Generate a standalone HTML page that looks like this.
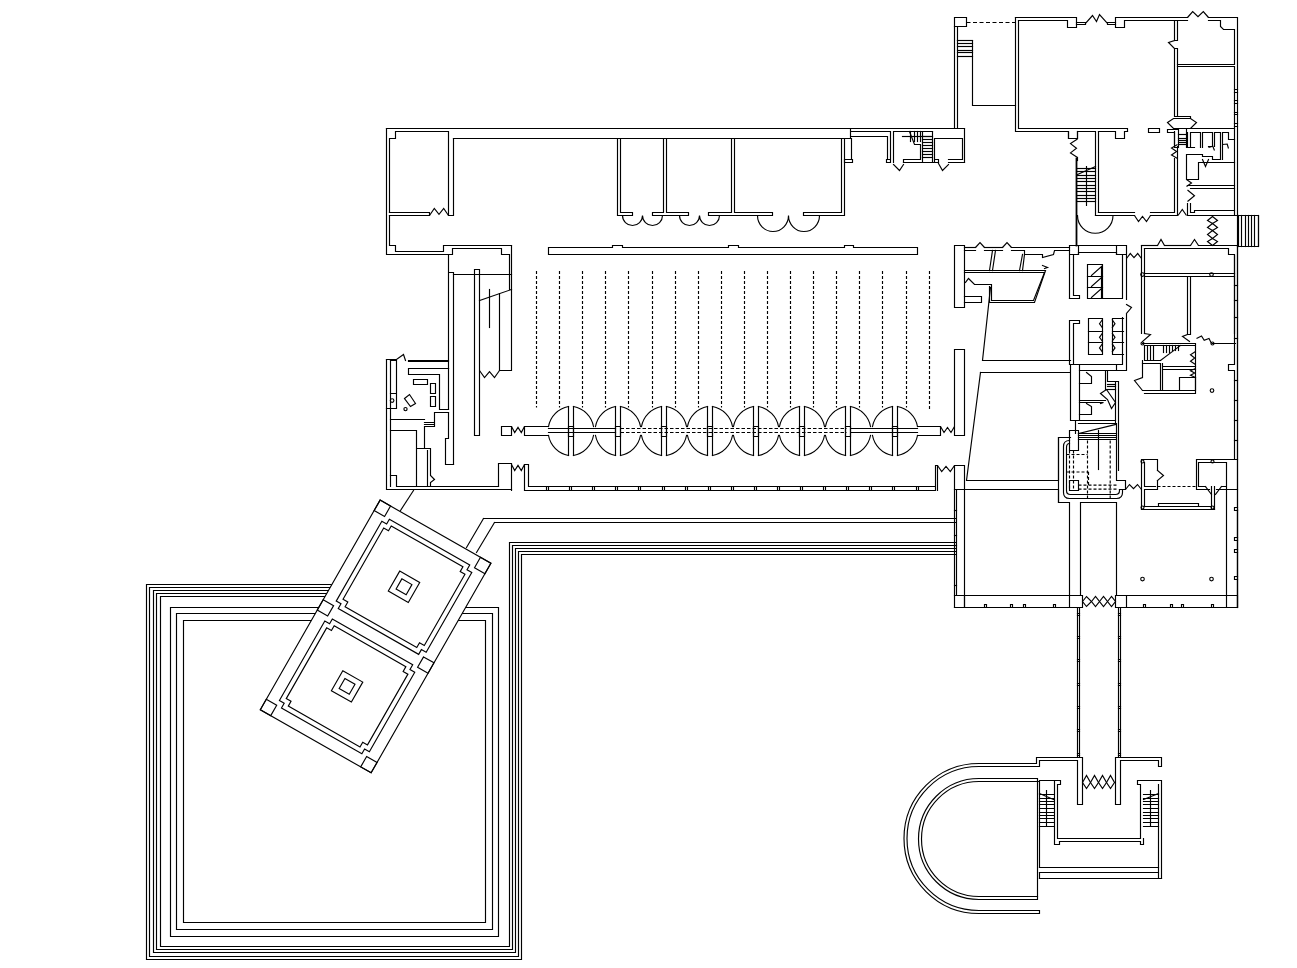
<!DOCTYPE html>
<html><head><meta charset="utf-8"><style>
html,body{margin:0;padding:0;background:#fff;width:1297px;height:968px;overflow:hidden}
svg{display:block}
</style></head><body>
<svg width="1297" height="968" viewBox="0 0 1297 968">
<g transform="translate(0.5,0.5)" fill="none" stroke="#000" stroke-width="1.15" stroke-linejoin="miter" stroke-linecap="square">
<path d="M386,128 H964 V162" />
<path d="M453,138 H850 V128" />
<path d="M386,128 V254 H452 V248 H501 V254 H509 V289" />
<path d="M511,245 V370 H499 V293" />
<path d="M389,212 V138 H395 V131 H448 V215 H453 V138" />
<path d="M389,212 H429 V215 H389" />
<path d="M429.0,215.0 L433.8,208.0 L438.5,213.9 L443.2,208.0 L448.0,215.0" stroke-linecap="butt"/>
<path d="M389,215 V245 H395 V251 H443 V245 H511" />
<path d="M448,254 V368 M453,464 V272 H448" />
<path d="M453,274 H511" />
<path d="M474,269 V435 H479 V269 Z" />
<path d="M479,300 L511,289" />
<path d="M489,289 V327" />
<path d="M479.0,370.0 L484.0,377.0 L489.0,371.1 L494.0,377.0 L499.0,370.0" stroke-linecap="butt"/>
<path d="M617,138 V215 H632 V212 H620 V138" />
<path d="M622,215 A10,10 0 0 0 642,215 A10,10 0 0 0 662,215" />
<path d="M666,138 V212 H688 V215 H652 V212 H663 V138" />
<path d="M679,215 A10,10 0 0 0 699,215 A10,10 0 0 0 719,215" />
<path d="M734,138 V212 H772 V215 H708 V212 H731 V138" />
<path d="M757,215 A15.5,16 0 0 0 788,215 A15.5,16 0 0 0 819,215" />
<path d="M844,138 V215 H803 V212 H841 V138" />
<path d="M851,138 V159 M844,159 H852 V162 H844 Z" />
<path d="M851,131 H890 V162 M851,136 H887 V159 M886,159 H890 V162 H886 Z" />
<path d="M893,131 H932 M893,131 V162" />
<path d="M893,164 L899,170 L903,164" />
<path d="M903,162 V159 H920 V144 H914 L909,131" />
<path d="M903,162 H938" />
<path d="M922,131 V162 M932,131 V162" />
<path d="M922,136 H932" />
<path d="M922,139 H932" />
<path d="M922,142 H932" />
<path d="M922,145 H932" />
<path d="M922,148 H932" />
<path d="M922,151 H932" />
<path d="M922,154 H932" />
<path d="M922,157 H932" />
<path d="M910,131 V141" />
<path d="M914,131 V141" />
<path d="M917,131 V141" />
<path d="M920,131 V141" />
<path d="M902,136 H930" />
<path d="M934,162 V138 H962 V159 H948 M948,162 H964 M934,159 H938 V162" />
<path d="M938,163 L942,170 L948,164" />
<path d="M548,247 H612 V245 H622 V247 H728 V245 H738 V247 H844 V245 H853 V247 H917 V254 H548 Z" />
<path d="M536,270.5V407" stroke-dasharray="3,2" stroke-linecap="butt"/>
<path d="M559,270.5V407" stroke-dasharray="3,2" stroke-linecap="butt"/>
<path d="M582,270.5V407" stroke-dasharray="3,2" stroke-linecap="butt"/>
<path d="M605,270.5V407" stroke-dasharray="3,2" stroke-linecap="butt"/>
<path d="M628,270.5V407" stroke-dasharray="3,2" stroke-linecap="butt"/>
<path d="M652,270.5V407" stroke-dasharray="3,2" stroke-linecap="butt"/>
<path d="M675,270.5V407" stroke-dasharray="3,2" stroke-linecap="butt"/>
<path d="M698,270.5V407" stroke-dasharray="3,2" stroke-linecap="butt"/>
<path d="M721,270.5V407" stroke-dasharray="3,2" stroke-linecap="butt"/>
<path d="M744,270.5V407" stroke-dasharray="3,2" stroke-linecap="butt"/>
<path d="M767,270.5V407" stroke-dasharray="3,2" stroke-linecap="butt"/>
<path d="M790,270.5V407" stroke-dasharray="3,2" stroke-linecap="butt"/>
<path d="M813,270.5V407" stroke-dasharray="3,2" stroke-linecap="butt"/>
<path d="M836,270.5V407" stroke-dasharray="3,2" stroke-linecap="butt"/>
<path d="M859,270.5V407" stroke-dasharray="3,2" stroke-linecap="butt"/>
<path d="M882,270.5V407" stroke-dasharray="3,2" stroke-linecap="butt"/>
<path d="M906,270.5V407" stroke-dasharray="3,2" stroke-linecap="butt"/>
<path d="M929,270.5V410" stroke-dasharray="3,2" stroke-linecap="butt"/>
<path d="M568,406 V455 M573,406 V455" />
<path d="M568,426 H573 V436 H568 Z" />
<path d="M568,406 A25,25 0 0 0 548,426 M548,435 A25,25 0 0 0 568,455" />
<path d="M573,406 A25,25 0 0 1 593,426 M593,435 A25,25 0 0 1 573,455" />
<path d="M615,406 V455 M620,406 V455" />
<path d="M615,426 H620 V436 H615 Z" />
<path d="M615,406 A25,25 0 0 0 595,426 M595,435 A25,25 0 0 0 615,455" />
<path d="M620,406 A25,25 0 0 1 640,426 M640,435 A25,25 0 0 1 620,455" />
<path d="M661,406 V455 M666,406 V455" />
<path d="M661,426 H666 V436 H661 Z" />
<path d="M661,406 A25,25 0 0 0 641,426 M641,435 A25,25 0 0 0 661,455" />
<path d="M666,406 A25,25 0 0 1 686,426 M686,435 A25,25 0 0 1 666,455" />
<path d="M707,406 V455 M712,406 V455" />
<path d="M707,426 H712 V436 H707 Z" />
<path d="M707,406 A25,25 0 0 0 687,426 M687,435 A25,25 0 0 0 707,455" />
<path d="M712,406 A25,25 0 0 1 732,426 M732,435 A25,25 0 0 1 712,455" />
<path d="M753,406 V455 M758,406 V455" />
<path d="M753,426 H758 V436 H753 Z" />
<path d="M753,406 A25,25 0 0 0 733,426 M733,435 A25,25 0 0 0 753,455" />
<path d="M758,406 A25,25 0 0 1 778,426 M778,435 A25,25 0 0 1 758,455" />
<path d="M799,406 V455 M804,406 V455" />
<path d="M799,426 H804 V436 H799 Z" />
<path d="M799,406 A25,25 0 0 0 779,426 M779,435 A25,25 0 0 0 799,455" />
<path d="M804,406 A25,25 0 0 1 824,426 M824,435 A25,25 0 0 1 804,455" />
<path d="M845,406 V455 M850,406 V455" />
<path d="M845,426 H850 V436 H845 Z" />
<path d="M845,406 A25,25 0 0 0 825,426 M825,435 A25,25 0 0 0 845,455" />
<path d="M850,406 A25,25 0 0 1 870,426 M870,435 A25,25 0 0 1 850,455" />
<path d="M892,406 V455 M897,406 V455" />
<path d="M892,426 H897 V436 H892 Z" />
<path d="M892,406 A25,25 0 0 0 872,426 M872,435 A25,25 0 0 0 892,455" />
<path d="M897,406 A25,25 0 0 1 917,426 M917,435 A25,25 0 0 1 897,455" />
<path d="M548,428 H615 M548,432 H615 M851,428 H917 M851,432 H917" />
<path d="M620,428H846" stroke-dasharray="3.5,2" stroke-linecap="butt"/>
<path d="M620,432H846" stroke-dasharray="3.5,2" stroke-linecap="butt"/>
<path d="M917,426 H940 V435 H917" />
<path d="M940.0,426.0 L943.5,432.0 L947.0,426.9 L950.5,432.0 L954.0,426.0" stroke-linecap="butt"/>
<path d="M501,426 H511 V435 H501 Z" />
<path d="M511.0,426.0 L514.2,432.0 L517.5,426.9 L520.8,432.0 L524.0,426.0" stroke-linecap="butt"/>
<path d="M548,426 H524 V435 H548" />
<path d="M524,464 V490 H935 V465 H937 V490 M528,464 V486 H935 M524,464 H528" />
<path d="M546,486 V490 M548,486 V490" />
<path d="M569,486 V490 M571,486 V490" />
<path d="M592,486 V490 M594,486 V490" />
<path d="M615,486 V490 M617,486 V490" />
<path d="M638,486 V490 M640,486 V490" />
<path d="M662,486 V490 M664,486 V490" />
<path d="M685,486 V490 M687,486 V490" />
<path d="M708,486 V490 M710,486 V490" />
<path d="M731,486 V490 M733,486 V490" />
<path d="M754,486 V490 M756,486 V490" />
<path d="M777,486 V490 M779,486 V490" />
<path d="M800,486 V490 M802,486 V490" />
<path d="M823,486 V490 M825,486 V490" />
<path d="M846,486 V490 M848,486 V490" />
<path d="M869,486 V490 M871,486 V490" />
<path d="M892,486 V490 M894,486 V490" />
<path d="M916,486 V490 M918,486 V490" />
<path d="M498,486 V463 H511 V490" />
<path d="M511.0,464.0 L514.2,470.0 L517.5,464.9 L520.8,470.0 L524.0,464.0" stroke-linecap="butt"/>
<path d="M937.0,465.0 L941.2,471.0 L945.5,465.9 L949.8,471.0 L954.0,465.0" stroke-linecap="butt"/>
<path d="M954,245 H964 V307 H954 Z" />
<path d="M954,349 H964 V435 H954 Z" />
<path d="M954,465 H964 V607 M954,465 V607" />
<path d="M386,359 V489 H511 M390,360 V486" />
<path d="M386,359 H396 L403,354 L405,360" />
<path d="M390,360 H396 V408 H386 M390,393 H396" />
<circle cx="391.6" cy="400" r="1.8"/>
<path d="M408,360 H448 M408,361 H448" />
<path d="M448,368 H408 V374 H439 V409 H448 M434,412 H448 M434,412 V426 H424 V448 M424,419 H390 M424,422 H434 M424,424 H434" />
<path d="M413,379 H427 V384 H413 Z M430,383 H435 V393 H430 Z M430,396 H435 V406 H430 Z" />
<path d="M404,398 L409,394 L415,403 L410,406 Z" />
<circle cx="405" cy="408.6" r="1.6"/>
<path d="M390,430 H416 V486 M416,448 H430 V475 L434,479 L430,482 V486 M427,450 V486" />
<path d="M390,475 H396 V486 H498" />
<path d="M448,412 V438 H445 V464 H453 M448,368 V409" />
<path d="M964,247 H975" />
<path d="M975.0,247.0 L979.5,242.0 L984.0,247.0" stroke-linecap="butt"/>
<path d="M984,247 H1002" />
<path d="M1002.0,247.0 L1006.5,242.0 L1011.0,247.0" stroke-linecap="butt"/>
<path d="M1011,247 H1069" />
<path d="M964,250 H975 M984,250 H1002 M1011,250 H1024 V254 H1042 V257 L1053,254 L1054,250 H1069" />
<path d="M992,250 L989,270 M995,250 L992,270 M1022,254 L1019,270 M1024,254 L1022,270" />
<path d="M964,272 H1044 L1033,300 H991 V284 H974 L968,278 L965,282" />
<path d="M964,270 H1045 L1034,302 H989 V286 M1042,265 L1047,267 L1044,268" />
<path d="M964,296 H981 V302 H964" />
<path d="M990,287 L982,360 H1070" />
<path d="M980,372 L966,480 H1058 V437 H1070" />
<path d="M964,489 H1058 V502 H1069 V595" />
<path d="M980,372 H1069" />
<path d="M1069,298 V245 H1126 V299 M1069,254 H1078 V245 M1116,245 V254 H1126" />
<path d="M1069,298 H1079 V295 H1073 V254 H1078 V252 H1116 V254 H1122 V298 H1087 V264 H1102 V298" />
<path d="M1087,276 H1102 M1087,287 H1102" />
<path d="M1091,275 L1101,266 V275 M1091,286 L1101,277 V286 M1091,297 L1101,288 V297" />
<path d="M1126,304 L1131,307 L1126,313" />
<path d="M1069,364 V320 H1079 V323 H1073 V364" />
<path d="M1079,364 H1116 V370 H1079 M1116,370 H1126 V314 M1116,364 H1122 V317" />
<path d="M1088,318 H1102 V354 H1088 Z M1112,318 H1123 M1112,318 V354 H1123" />
<path d="M1088,331 H1102 M1088,342 H1102 M1112,331 H1123 M1112,342 H1123" />
<path d="M1102.0,319.0 L1099.0,323.2 L1102.0,327.5" stroke-linecap="butt"/>
<path d="M1111.5,319.0 L1114.5,323.2 L1111.5,327.5" stroke-linecap="butt"/>
<path d="M1102.0,332.5 L1099.0,336.8 L1102.0,341.0" stroke-linecap="butt"/>
<path d="M1111.5,332.5 L1114.5,336.8 L1111.5,341.0" stroke-linecap="butt"/>
<path d="M1102.0,343.2 L1099.0,347.4 L1102.0,351.7" stroke-linecap="butt"/>
<path d="M1111.5,343.2 L1114.5,347.4 L1111.5,351.7" stroke-linecap="butt"/>
<path d="M1141,245 V333 M1144,248 V333" />
<path d="M1126.0,258.0 L1129.8,253.0 L1133.5,257.2 L1137.2,253.0 L1141.0,258.0" stroke-linecap="butt"/>
<path d="M954,17 H966 V26 H954 Z" />
<path d="M966,22H1015" stroke-dasharray="4,2.5" stroke-linecap="butt"/>
<path d="M954,26 V128 M957,26 V128 H964" />
<path d="M957,40 H972 V105 H1015" />
<path d="M957,40 H972" />
<path d="M957,43 H972" />
<path d="M957,46 H972" />
<path d="M957,50 H972" />
<path d="M957,52 H972" />
<path d="M957,56 H972" />
<path d="M1015,17 V131 H1068 V138 H1077 V131 H1095 V215" />
<path d="M1018,20 V128 H1127 V131 M1098,131 V212" />
<path d="M1015,17 H1076 V27 H1067 V20 H1018" />
<path d="M1076,22 H1085 M1076,24 H1085 M1107,22 H1115 M1107,24 H1115" />
<path d="M1085,23 L1092,15 L1096,21 L1099,14 L1107,23" />
<path d="M1115,27 V17 H1187 M1115,27 H1124 V20 H1187" />
<path d="M1187.0,17.0 L1192.2,11.0 L1197.5,16.1 L1202.8,11.0 L1208.0,17.0" stroke-linecap="butt"/>
<path d="M1208,17 H1237 V607" />
<path d="M1208,20 H1220 V26 L1223,29 H1234 V64 H1177" />
<path d="M1177,66 H1234 V215" />
<path d="M1234,89 H1237 M1234,92 H1237" />
<path d="M1234,100 H1237 M1234,103 H1237" />
<path d="M1234,112 H1237 M1234,114 H1237" />
<path d="M1234,123 H1237 M1234,126 H1237" />
<path d="M1174,20 V40 L1168,42 L1174,48 V116 H1190 V118 M1177,20 V40 H1174 M1177,48 V116 M1174,48 H1177" />
<path d="M1167,122 L1173,118 H1190 L1196,122 L1190,128 H1173 Z" />
<path d="M1098,131 H1115 V138 H1124 V131 H1127" />
<path d="M1148,128 H1159 V132 H1148 Z" />
<path d="M1167,129 H1178 V147 H1174 V132 H1167 Z" />
<path d="M1178,134 H1186" />
<path d="M1178,138 H1186" />
<path d="M1178,140 H1186" />
<path d="M1178,142 H1186" />
<path d="M1178,144 H1186" />
<path d="M1186,147 V128 H1234" />
<path d="M1187,132 V147 H1194 M1190,132 V147 M1190,132 H1200 V147 M1202,132 V147 M1202,132 H1212 V146 H1208 M1214,132 V146 M1214,132 H1220 V159 M1222,132 V159 M1222,132 H1228 V139 H1234" />
<path d="M1208.0,147.0 L1212.3,145.8 L1214.0,150.0" stroke-linecap="butt"/>
<path d="M1222.0,144.0 L1226.7,143.5 L1228.0,148.0" stroke-linecap="butt"/>
<path d="M1186,154 H1202 V156 H1212 V159 H1220 M1186,154 V179 H1198 V162 H1234" />
<path d="M1202,159 L1205,166 L1208,159" />
<path d="M1187,185 H1234 M1190,188 H1234" />
<path d="M1186.0,179.0 L1191.0,182.5 L1186.0,186.0" stroke-linecap="butt"/>
<path d="M1187.0,189.5 L1194.0,195.2 L1187.0,201.0" stroke-linecap="butt"/>
<path d="M1187,203 V215 H1237 M1190,203 V212 H1194 V210 H1234" />
<path d="M1076,158 V245" stroke-width="1.8"/>
<path d="M1077,131 V138" />
<path d="M1077.0,138.5 L1070.0,143.1 L1076.0,147.8 L1070.0,152.4 L1077.0,157.0" stroke-linecap="butt"/>
<path d="M1077,157 V160" />
<path d="M1077,168 H1095" />
<path d="M1077,171 H1095" />
<path d="M1077,175 H1095" />
<path d="M1077,178 H1095" />
<path d="M1077,181 H1095" />
<path d="M1077,185 H1095" />
<path d="M1077,188 H1095" />
<path d="M1077,191 H1095" />
<path d="M1077,195 H1095" />
<path d="M1077,198 H1095" />
<path d="M1077,201 H1095" />
<path d="M1086,166 V205 M1077,174 L1095,166" />
<path d="M1098,212 H1134 M1150,212 H1174 V158 M1095,215 H1134 M1150,215 H1177 V146" />
<path d="M1134.0,215.0 L1138.0,221.0 L1142.0,215.9 L1146.0,221.0 L1150.0,215.0" stroke-linecap="butt"/>
<path d="M1077,215 A17.7,17.7 0 0 0 1112.5,215" />
<path d="M1068,131 V138 M1174,131 V144" />
<path d="M1177.0,144.0 L1171.0,147.5 L1176.1,151.0 L1171.0,154.5 L1177.0,158.0" stroke-linecap="butt"/>
<path d="M1141,245 H1157" />
<path d="M1157.0,245.0 L1160.5,239.0 L1164.0,245.0" stroke-linecap="butt"/>
<path d="M1164,245 H1190" />
<path d="M1190.0,245.0 L1194.0,239.0 L1198.0,245.0" stroke-linecap="butt"/>
<path d="M1198,245 H1237 M1144,248 H1228 V254 H1234 V333" />
<path d="M1234,215 H1258 V246 H1237" />
<path d="M1238,215 V246" />
<path d="M1241,215 V246" />
<path d="M1245,215 V246" />
<path d="M1248,215 V246" />
<path d="M1251,215 V246" />
<path d="M1254,215 V246" />
<path d="M1258,215 V246" />
<path d="M1212,216 L1217,220 L1212,223 L1207,220 Z" />
<path d="M1212,223 L1217,227 L1212,230 L1207,227 Z" />
<path d="M1212,230 L1217,234 L1212,238 L1207,234 Z" />
<path d="M1212,238 L1217,241 L1212,245 L1207,241 Z" />
<path d="M1177.5,215.0 L1181.8,209.0 L1186.0,215.0" stroke-linecap="butt"/>
<path d="M1144,273 H1234 M1144,276 H1234" />
<circle cx="1142" cy="274" r="1.8"/><circle cx="1211" cy="274" r="1.8"/>
<path d="M1187,276 V334 M1190,276 V334 M1187,334 H1190" />
<path d="M1144,333 L1150,334 L1142,341" />
<path d="M1187,334 L1182,336 L1189,341" />
<path d="M1196.0,338.0 L1201.0,335.5 L1203.7,339.9 L1208.5,338.0 L1211.0,343.0" stroke-linecap="butt"/>
<circle cx="1212" cy="343" r="1.5"/><circle cx="1142" cy="343" r="1.5"/>
<path d="M1142,343 H1195 V390 M1144,345 H1194 M1212,343 H1235" />
<path d="M1144,345 V360 H1160 M1147,345 V360 M1150,345 V360 M1153,345 V360" />
<path d="M1163,345 V352" />
<path d="M1166,345 V352" />
<path d="M1169,345 V352" />
<path d="M1172,345 V350" />
<path d="M1175,345 V350" />
<path d="M1178,345 V350" />
<path d="M1160,360 L1180,345" />
<path d="M1142,360 V377 L1134,380 L1142,390 H1195 M1144,393 H1195 V377" />
<path d="M1142,363 H1160 V390 M1162,363 V390 M1162,366 H1195 M1162,369 H1195" />
<path d="M1179,377 V390 M1179,377 H1195" />
<path d="M1195.0,351.0 L1190.0,354.2 L1194.2,357.5 L1190.0,360.8 L1195.0,364.0" stroke-linecap="butt"/>
<path d="M1195.0,368.0 L1190.0,370.2 L1194.2,372.5 L1190.0,374.8 L1195.0,377.0" stroke-linecap="butt"/>
<circle cx="1211.5" cy="390" r="1.8"/>
<path d="M1234,255 V364 H1228 V370 H1234 V459 M1237,246 V607" />
<path d="M1234,285 H1237" />
<path d="M1234,300 H1237" />
<path d="M1234,317 H1237" />
<path d="M1234,338 H1237" />
<path d="M1234,380 H1237" />
<path d="M1234,400 H1237" />
<path d="M1234,420 H1237" />
<path d="M1234,440 H1237" />
<path d="M1141,459 V509 M1141,459 H1157 V470 M1144,462 V486 H1155 M1144,489 H1157 V480 M1144,489 V506" />
<path d="M1157,470 L1163,475 L1157,480" />
<path d="M1157,486H1196" stroke-dasharray="3,2" stroke-linecap="butt"/>
<path d="M1196,489 V459 H1237 M1198,486 V462 H1226 V595 M1198,486 H1205 M1221,486 H1226 M1196,489 H1209 M1216,489 H1237" />
<path d="M1205,486 L1211,494 M1221,486 L1215,494" />
<path d="M1211,486 V509 M1214,486 V509" />
<path d="M1141,509 H1214 M1144,506 H1211 M1158,503 H1198 V506 M1158,503 V506" />
<circle cx="1142" cy="461" r="1.5"/><circle cx="1212" cy="461" r="1.5"/><circle cx="1142" cy="507" r="1.5"/><circle cx="1212" cy="507" r="1.5"/>
<path d="M1058,502 V437 H1069" />
<path d="M1122,489 V492 Q1122,498 1116,498 H1069 Q1063,498 1063,492 V446 Q1063,440 1069,440" />
<path d="M1119,489 V490 Q1119,494 1115,494 H1070 Q1066,494 1066,490 V447 Q1066,443 1069,443" />
<path d="M1069,430 H1078 V450 H1069 Z" />
<path d="M1116,423 V480 H1125 V489 H1119" />
<path d="M1078,433 L1115,424" />
<path d="M1078,433 H1116" />
<path d="M1078,435 H1116" />
<path d="M1078,437 H1116" />
<path d="M1078,439 H1116" />
<path d="M1098,430 V469" />
<path d="M1087,440V498" stroke-dasharray="3,2" stroke-linecap="butt"/>
<path d="M1109.7,440V498" stroke-dasharray="3,2" stroke-linecap="butt"/>
<path d="M1069,450V490" stroke-dasharray="3,2" stroke-linecap="butt"/>
<path d="M1073,450V490" stroke-dasharray="3,2" stroke-linecap="butt"/>
<path d="M1066,454H1087" stroke-dasharray="3,2" stroke-linecap="butt"/>
<path d="M1066,471.5H1088" stroke-dasharray="3,2" stroke-linecap="butt"/>
<path d="M1088,471.5V485" stroke-dasharray="3,2" stroke-linecap="butt"/>
<path d="M1078,484.6H1116" stroke-dasharray="3,2" stroke-linecap="butt"/>
<path d="M1078,488.6H1116" stroke-dasharray="3,2" stroke-linecap="butt"/>
<path d="M1069,480 H1078 V490 H1069 Z" />
<path d="M1080,502 V595 M1080,502 H1116 V595" />
<path d="M1125.0,489.0 L1129.0,484.0 L1133.0,488.2 L1137.0,484.0 L1141.0,489.0" stroke-linecap="butt"/>
<path d="M1070,364 H1079 V420 H1070 Z" />
<path d="M1105,371 V389 M1107,371 V381 H1118 V470 M1115,381 V423" />
<path d="M1107,384 H1115" />
<path d="M1107,386 H1115" />
<path d="M1107,389 H1115" />
<path d="M1079,383 H1091 V376 L1086,372 M1079,414 H1091 V406 L1086,403" />
<path d="M1079,400 H1105 M1079,402 H1103 L1100,403" />
<path d="M1100,393 L1106,389 L1115,402 L1111,408 L1107,399 Z" />
<path d="M1079,420 H1115 M1075,420 V433 M1078,423 H1115" />
<path d="M954,489 H964 M956,489 V595" />
<path d="M954,510 H956" />
<path d="M954,535 H956" />
<path d="M954,545 H956" />
<path d="M954,585 H956" />
<path d="M954,595 H1069 M954,607 H1069 M964,595 V607 M1069,595 V607 H1082 V595 H1069" />
<path d="M984,604 H986 V607 M984,604 V607" />
<path d="M1010,604 H1012 V607 M1010,604 V607" />
<path d="M1023,604 H1025 V607 M1023,604 V607" />
<path d="M1053,604 H1055 V607 M1053,604 V607" />
<path d="M1082,601 L1086,596 L1091,601 L1086,606 Z" stroke-linejoin="miter"/>
<path d="M1091,601 L1095,596 L1099,601 L1095,606 Z" stroke-linejoin="miter"/>
<path d="M1099,601 L1103,596 L1107,601 L1103,606 Z" stroke-linejoin="miter"/>
<path d="M1107,601 L1111,596 L1115,601 L1111,606 Z" stroke-linejoin="miter"/>
<path d="M1115,595 H1126 V607 H1115 Z M1126,595 H1226 M1126,607 H1237 V595 H1226 V607 M1226,595 H1237" />
<path d="M1143,604 H1145 V607 M1143,604 V607" />
<path d="M1170,604 H1172 V607 M1170,604 V607" />
<path d="M1181,604 H1183 V607 M1181,604 V607" />
<path d="M1211,604 H1213 V607 M1211,604 V607" />
<path d="M1237,509 V607" />
<path d="M1237,507 H1234 V510 H1237" />
<path d="M1237,537 H1234 V540 H1237" />
<path d="M1237,549 H1234 V552 H1237" />
<path d="M1237,576 H1234 V579 H1237" />
<circle cx="1142" cy="578.5" r="1.8"/><circle cx="1211" cy="578.5" r="1.8"/>
<path d="M1077,607 V757 M1079,607 V757 M1118,607 V757 M1120,607 V757" />
<path d="M1077,613 H1079 M1077,615 H1079 M1118,613 H1120 M1118,615 H1120" />
<path d="M1077,636 H1079 M1077,638 H1079 M1118,636 H1120 M1118,638 H1120" />
<path d="M1077,659 H1079 M1077,661 H1079 M1118,659 H1120 M1118,661 H1120" />
<path d="M1077,683 H1079 M1077,685 H1079 M1118,683 H1120 M1118,685 H1120" />
<path d="M1077,706 H1079 M1077,708 H1079 M1118,706 H1120 M1118,708 H1120" />
<path d="M1077,729 H1079 M1077,731 H1079 M1118,729 H1120 M1118,731 H1120" />
<path d="M1077,753 H1079 M1077,755 H1079 M1118,753 H1120 M1118,755 H1120" />
<path d="M978,763 H1036 V757 H1082 V804 H1077 V760 H1039 V766 H978" />
<path d="M1115,804 V757 H1161 V766 H1158 V760 H1120 V804 H1115" />
<path d="M1082,782 L1086,775 L1090,782 L1086,788 Z" />
<path d="M1090,782 L1094,775 L1098,782 L1094,788 Z" />
<path d="M1098,782 L1102,775 L1106,782 L1102,788 Z" />
<path d="M1106,782 L1110,775 L1114,782 L1110,788 Z" />
<path d="M978,778 H1037 V899 H978 M978,781 H1039 V867 M1039,872 V878" />
<path d="M978,896 H1037" />
<path d="M978,910 H1039 V913 H978" />
<path d="M1039,780 H1060 V784 H1057 V838 H1140 V784 H1137 V780 H1161 V878 M1054,781 V844 H1059 V841 H1140 V844 H1143 V838 M1158,784 V878" />
<path d="M1039,867 H1158 M1039,872 H1158 M1039,878 H1161" />
<path d="M1039,794 H1053 M1143,794 H1158" />
<path d="M1039,798 H1053 M1143,798 H1158" />
<path d="M1039,801 H1053 M1143,801 H1158" />
<path d="M1039,804 H1053 M1143,804 H1158" />
<path d="M1039,808 H1053 M1143,808 H1158" />
<path d="M1039,812 H1053 M1143,812 H1158" />
<path d="M1039,815 H1053 M1143,815 H1158" />
<path d="M1039,818 H1053 M1143,818 H1158" />
<path d="M1039,822 H1053 M1143,822 H1158" />
<path d="M1039,826 H1053 M1143,826 H1158" />
<path d="M1046,790 V826 M1150,790 V826 M1039,793 L1053,799 M1158,793 L1143,799" />
<path d="M978.5,763 A75,75 0 0 0 978.5,913" />
<path d="M978.5,766 A72,72 0 0 0 978.5,910" />
<path d="M978.5,778.0 A60.5,60.5 0 0 0 978.5,899.0" />
<path d="M978.5,781.0 A57.5,57.5 0 0 0 978.5,896.0" />
<path d="M483,518 H955 M494,522 H955" />
<path d="M466,547 L483,518 M476,552 L494,522" />
<path d="M340,584 H146 V959 H521 V554 H955" />
<path d="M340,587 H149 V956 H518 V551 H955" />
<path d="M340,590 H153 V952 H515 V548 H955" />
<path d="M340,593 H156 V949 H512 V545 H955" />
<path d="M340,596 H160 V946 H509 V542 H955" />
<path d="M170,607 H498 V936 H170 Z" />
<path d="M176,613 H492 V929 H176 Z" />
<path d="M183,620 H485 V922 H183 Z" />
<path d="M400,510 L413,490" />
<path d="M379.60,499.60 L490.40,562.71 L370.61,772.33 L259.82,709.22 Z" fill="#fff"/>
<path d="M379.60,499.60 L390.03,505.54 L384.08,515.96 L373.65,510.02 Z" />
<path d="M479.97,556.77 L490.40,562.71 L484.45,573.13 L474.02,567.19 Z" />
<path d="M322.68,599.20 L333.11,605.14 L327.16,615.56 L316.73,609.62 Z" />
<path d="M423.05,656.38 L433.48,662.32 L427.53,672.73 L417.10,666.79 Z" />
<path d="M265.77,698.81 L276.20,704.75 L270.24,715.16 L259.82,709.22 Z" />
<path d="M366.14,755.98 L376.57,761.92 L370.61,772.33 L360.19,766.39 Z" />
<path d="M388.86,518.68 L469.24,564.47 L466.51,569.24 L471.29,571.96 L425.66,651.82 L420.88,649.10 L418.15,653.87 L337.77,608.08 L340.50,603.31 L335.72,600.59 L381.35,520.73 L386.13,523.45 Z" />
<path d="M390.72,525.49 L462.41,566.33 L459.69,571.11 L464.46,573.83 L423.79,645.00 L419.01,642.28 L416.29,647.06 L344.59,606.22 L347.32,601.44 L342.54,598.72 L383.21,527.55 L387.99,530.27 Z" />
<path d="M399.21,570.60 L419.20,581.98 L407.79,601.95 L387.81,590.56 Z" />
<path d="M401.34,578.37 L411.42,584.11 L405.67,594.18 L395.59,588.44 Z" />
<path d="M331.82,618.50 L412.20,664.29 L409.47,669.06 L414.25,671.78 L368.87,751.20 L364.09,748.48 L361.36,753.26 L280.98,707.47 L283.70,702.69 L278.92,699.97 L324.31,620.55 L329.09,623.27 Z" />
<path d="M333.68,625.31 L405.37,666.15 L402.65,670.93 L407.42,673.65 L367.00,744.39 L362.22,741.67 L359.49,746.44 L287.80,705.60 L290.53,700.83 L285.75,698.11 L326.17,627.37 L330.95,630.09 Z" />
<path d="M342.30,670.20 L362.28,681.59 L350.88,701.55 L330.89,690.17 Z" />
<path d="M344.42,677.97 L354.50,683.71 L348.75,693.78 L338.67,688.04 Z" />
</g></svg></body></html>
